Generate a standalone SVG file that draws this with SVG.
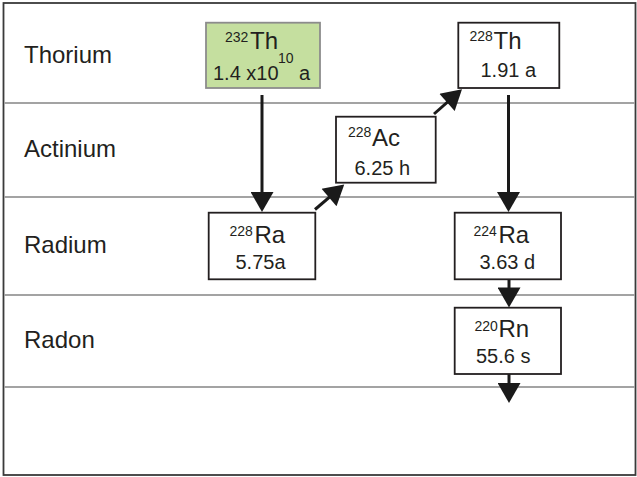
<svg xmlns="http://www.w3.org/2000/svg" width="637" height="477" viewBox="0 0 637 477">
<style>
text{font-family:"Liberation Sans",Arial,sans-serif;fill:#231f20}
.lbl{font-size:24px}
.sym{font-size:24px}
.sup{font-size:14px}
.hl{font-size:20px}
.row{stroke:#a3a3a3;stroke-width:2;fill:none}
.box{fill:#fff;stroke:#231f20;stroke-width:1.8}
.gbox{fill:#c5df9f;stroke:#8c8c8c;stroke-width:1.8}
.arr{stroke:#1a1a1a;stroke-width:3;fill:none;marker-end:url(#ah)}
</style>
<defs>
<marker id="ah" markerUnits="userSpaceOnUse" markerWidth="22" markerHeight="23" refX="16" refY="11.5" orient="auto" viewBox="0 0 20 23">
<path d="M0,0 L20,11.5 L0,23 z" fill="#1a1a1a"/>
</marker>
</defs>
<rect x="0" y="0" width="637" height="477" fill="#fff"/>
<g id="frame">
<rect x="3.5" y="3" width="632" height="472" fill="none" stroke="#3a3a3a" stroke-width="1.8"/>
<line class="row" x1="4" y1="103" x2="635" y2="103"/>
<line class="row" x1="4" y1="197" x2="635" y2="197"/>
<line class="row" x1="4" y1="295" x2="635" y2="295"/>
<line class="row" x1="4" y1="387" x2="635" y2="387"/>
</g>
<g id="labels">
<text class="lbl" x="24" y="63">Thorium</text>
<text class="lbl" x="24" y="157.3">Actinium</text>
<text class="lbl" x="24" y="252.7">Radium</text>
<text class="lbl" x="24" y="348.3">Radon</text>
</g>
<g id="connectors">
<line class="arr" x1="262" y1="95" x2="262" y2="208"/>
<line class="arr" x1="315" y1="209.5" x2="341.2" y2="187.1"/>
<line class="arr" x1="434" y1="114" x2="459" y2="91.8"/>
<line class="arr" x1="508.5" y1="95" x2="508.5" y2="208"/>
<line class="arr" x1="509" y1="279" x2="509" y2="303.5"/>
<line class="arr" x1="509" y1="374" x2="509" y2="399"/>
</g>
<g id="th232">
<rect class="gbox" x="206" y="22.7" width="114" height="65.3"/>
<text x="225" y="41.5" class="sup">232</text>
<text x="250" y="49.3" class="sym">Th</text>
<text x="213" y="80" class="hl">1.4 x10</text>
<text x="278" y="62.5" class="sup">10</text>
<text x="299" y="80" class="hl">a</text>
</g>
<g id="th228">
<rect class="box" x="458.3" y="22.7" width="101" height="65.3"/>
<text x="469.5" y="41" class="sup">228</text>
<text x="493.5" y="49.3" class="sym">Th</text>
<text x="480.5" y="76.7" class="hl">1.91 a</text>
</g>
<g id="ac228">
<rect class="box" x="336" y="116.7" width="99.7" height="66"/>
<text x="348" y="137.3" class="sup">228</text>
<text x="372" y="146" class="sym">Ac</text>
<text x="354.5" y="175" class="hl">6.25 h</text>
</g>
<g id="ra228">
<rect class="box" x="208.7" y="212.7" width="106.6" height="66.6"/>
<text x="229.5" y="236" class="sup">228</text>
<text x="254.5" y="243.3" class="sym">Ra</text>
<text x="235.5" y="269.3" class="hl">5.75a</text>
</g>
<g id="ra224">
<rect class="box" x="454.7" y="212.7" width="106.3" height="66.6"/>
<text x="473.5" y="236" class="sup">224</text>
<text x="498.5" y="243.3" class="sym">Ra</text>
<text x="479.5" y="269" class="hl">3.63 d</text>
</g>
<g id="rn220">
<rect class="box" x="454.7" y="307.7" width="106.3" height="66.3"/>
<text x="474.5" y="330.5" class="sup">220</text>
<text x="498.5" y="337.3" class="sym">Rn</text>
<text x="476" y="363.3" class="hl">55.6 s</text>
</g>
</svg>
